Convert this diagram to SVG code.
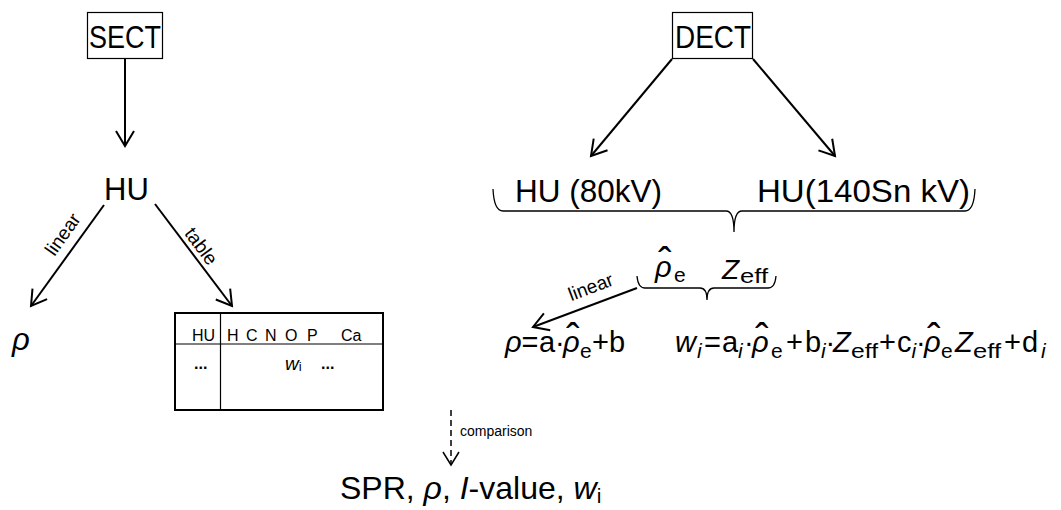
<svg xmlns="http://www.w3.org/2000/svg" width="1061" height="510" viewBox="0 0 1061 510">
<style>
text{font-family:"Liberation Sans",Arial,sans-serif;fill:#000}
.box{fill:#fff;stroke:#000;stroke-width:1.2}
.big{font-size:31px}
.title{font-size:32px}
.lbl{font-size:19px}
.eq{font-size:29px}
.sub{font-size:21px}
.it{font-style:italic}
.hat{font-size:40px;text-anchor:middle;font-style:normal}
.th{font-size:16px}
.conn{fill:none;stroke:#000;stroke-width:2}
.brace{fill:none;stroke:#000;stroke-width:1.3}
.tbl{fill:none;stroke:#000;stroke-width:2}
.tline{stroke:#000;stroke-width:1.2}
</style>
<defs>
<marker id="arr" markerUnits="userSpaceOnUse" markerWidth="30" markerHeight="30" refX="0" refY="0" viewBox="-20 -15 30 30" orient="auto">
<path d="M-15,-9 L0,0 L-15,9" fill="none" stroke="#000" stroke-width="2"/>
</marker>
<marker id="arrs" markerUnits="userSpaceOnUse" markerWidth="30" markerHeight="30" refX="0" refY="0" viewBox="-20 -15 30 30" orient="auto">
<path d="M-13,-8 L0,0 L-13,8" fill="none" stroke="#000" stroke-width="1.5"/>
</marker>
</defs>
<rect width="1061" height="510" fill="#fff"/>

<g id="connectors">
<line class="conn" x1="125" y1="59" x2="125" y2="146" marker-end="url(#arr)"/>
<line class="conn" x1="104" y1="205" x2="31" y2="306" marker-end="url(#arr)"/>
<line class="conn" x1="155" y1="204" x2="232" y2="306" marker-end="url(#arr)"/>
<line class="conn" x1="672" y1="59" x2="591" y2="156" marker-end="url(#arr)"/>
<line class="conn" x1="753" y1="59" x2="835" y2="156" marker-end="url(#arr)"/>
<line class="conn" x1="637" y1="288" x2="533" y2="327" marker-end="url(#arr)"/>
<line x1="451" y1="410" x2="451" y2="465" fill="none" stroke="#000" stroke-width="1.5" stroke-dasharray="6,4" marker-end="url(#arrs)"/>
<text class="lbl" transform="translate(68,238) rotate(-54.7)" text-anchor="middle">linear</text>
<text class="lbl" transform="translate(196,250) rotate(53.4)" text-anchor="middle">table</text>
<text class="lbl" transform="translate(593,293) rotate(-20.6)" text-anchor="middle">linear</text>
<text x="460" y="436" font-size="14">comparison</text>
<path class="brace" d="M493,189 Q494,211 503,211 L726,211 Q734,211 734,232 Q734,211 742,211 L965,211 Q974,211 975,189"/>
<path class="brace" d="M637,276 Q638,288 645,288 L700,288 Q707,288 707,300 Q707,288 714,288 L768,288 Q775,288 776,276"/>
</g>

<g id="sect">
<rect class="box" x="87.5" y="12.5" width="75" height="46"/>
<text class="title" x="89" y="48" textLength="72" lengthAdjust="spacingAndGlyphs">SECT</text>
</g>

<g id="hu-sect">
<text class="big" x="104" y="200">HU</text>
</g>

<g id="rho-sect">
<text class="big it" x="12" y="350">ρ</text>
</g>

<g id="table">
<rect class="tbl" x="175" y="313" width="208" height="97"/>
<line class="tline" x1="220.5" y1="313" x2="220.5" y2="410"/>
<line class="tline" x1="175" y1="344" x2="383" y2="344"/>
<text class="th" y="341"><tspan x="192">HU</tspan><tspan x="227">H</tspan><tspan x="246">C</tspan><tspan x="265">N</tspan><tspan x="285">O</tspan><tspan x="307">P</tspan><tspan x="341">Ca</tspan></text>
<text class="th" x="194" y="369" font-weight="bold">...</text>
<text x="285" y="370" font-size="19"><tspan class="it">w</tspan><tspan font-size="13" dy="1">i</tspan></text>
<text class="th" x="321" y="369" font-weight="bold">...</text>
</g>

<g id="dect">
<rect class="box" x="672.5" y="12.5" width="80" height="46"/>
<text class="title" x="675" y="48" textLength="76" lengthAdjust="spacingAndGlyphs">DECT</text>
</g>

<g id="hu80">
<text class="big" x="515" y="202" textLength="147" lengthAdjust="spacingAndGlyphs">HU (80kV)</text>
</g>

<g id="hu140">
<text class="big" x="757" y="202" textLength="213" lengthAdjust="spacingAndGlyphs">HU(140Sn kV)</text>
</g>

<g id="rhoe-zeff">
<text class="eq"><tspan class="hat" x="665" y="276">ˆ</tspan><tspan class="it" x="655" y="277">ρ</tspan><tspan class="sub" x="674" y="282">e</tspan><tspan class="it" x="722" y="279" font-size="28">Z</tspan><tspan class="sub" x="740" y="283" textLength="28" lengthAdjust="spacingAndGlyphs">eff</tspan></text>
</g>

<g id="eq-rho">
<text class="eq"><tspan class="hat" x="573" y="352">ˆ</tspan><tspan class="it" x="505" y="352">ρ</tspan><tspan x="521.5" y="352">=</tspan><tspan x="539" y="352">a</tspan><tspan x="555" y="352">·</tspan><tspan class="it" x="563" y="352">ρ</tspan><tspan class="sub" x="580" y="358">e</tspan><tspan x="592" y="352">+</tspan><tspan x="609" y="352">b</tspan></text>
</g>

<g id="eq-w">
<text class="eq"><tspan class="hat" x="762" y="352">ˆ</tspan><tspan class="hat" x="934" y="352">ˆ</tspan><tspan class="it" x="675" y="352">w</tspan><tspan class="sub it" x="697" y="358">i</tspan><tspan x="704" y="352">=</tspan><tspan x="722" y="352">a</tspan><tspan class="sub it" x="738" y="358">i</tspan><tspan x="744" y="352">·</tspan><tspan class="it" x="752" y="352">ρ</tspan><tspan class="sub" x="771" y="358">e</tspan><tspan x="786" y="352">+</tspan><tspan x="805" y="352">b</tspan><tspan class="sub it" x="821" y="358">i</tspan><tspan x="825.5" y="352">·</tspan><tspan class="it" x="833" y="352">Z</tspan><tspan class="sub" x="851" y="358" textLength="27" lengthAdjust="spacingAndGlyphs">eff</tspan><tspan x="879" y="352">+</tspan><tspan x="897" y="352">c</tspan><tspan class="sub it" x="911.5" y="358">i</tspan><tspan x="916" y="352">·</tspan><tspan class="it" x="924" y="352">ρ</tspan><tspan class="sub" x="941" y="358">e</tspan><tspan class="it" x="955" y="352">Z</tspan><tspan class="sub" x="973" y="358" textLength="28" lengthAdjust="spacingAndGlyphs">eff</tspan><tspan x="1004" y="352">+</tspan><tspan x="1022" y="352">d</tspan><tspan class="sub it" x="1041" y="358">i</tspan></text>
</g>

<g id="result">
<text x="340" y="499" font-size="32">SPR, <tspan class="it">ρ</tspan>, <tspan class="it">I</tspan>-value, <tspan class="it">w</tspan><tspan font-size="21" dy="4">i</tspan></text>
</g>
</svg>
